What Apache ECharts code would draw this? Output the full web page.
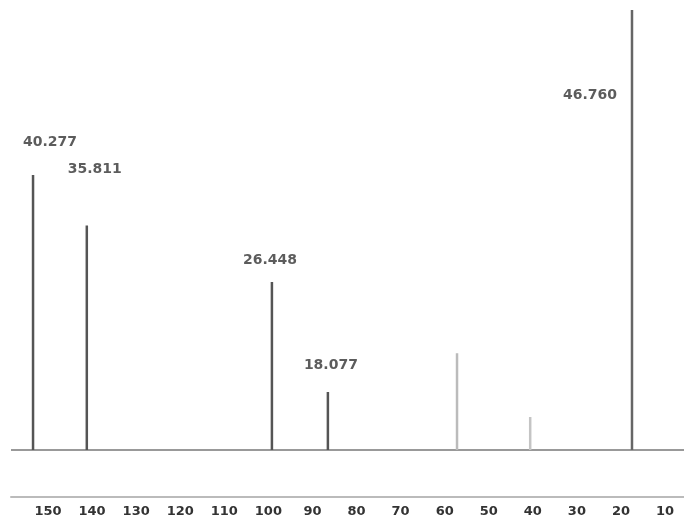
<!DOCTYPE html>
<html>
<head>
<meta charset="utf-8">
<script src="https://cdn.jsdelivr.net/npm/echarts@6/dist/echarts.min.js"></script>
<style>html,body{margin:0;padding:0;background:#fff}#c{width:684px;height:515px}</style>
</head>
<body>
<div id="c"></div>
<script>
// Data
var peakPpm    = [153.4, 141.2, 99.2, 86.5, 57.2, 40.6, 17.5];
var peakHeight = [62.5, 51, 38.2, 13.2, 22, 7.5, 100];
var peakLabels = ["40.277", "35.811", "26.448", "18.077", "", "", "46.760"];
var axisTicks  = [150, 140, 130, 120, 110, 100, 90, 80, 70, 60, 50, 40, 30, 20, 10];
var axisMin = 5.7, axisMax = 158.4;

// styling
var peakColors = ['#555', '#555', '#555', '#555', '#bbb', '#c4c4c4', '#666'];
var labelOffsets = [[17, -33], [8, -56], [-2, -22], [3, -27], [0, 0], [0, 0], [-42, 85]];

var series = [];
// baseline
series.push({
  type: 'line', data: [[axisMax, 0], [axisMin, 0]], symbol: 'none',
  lineStyle: { color: '#999', width: 2 }, z: 1, silent: true
});
peakPpm.forEach(function (p, i) {
  series.push({
    type: 'line', symbol: 'none', silent: true, z: 2,
    data: [[p, 0], [p, peakHeight[i]], [p, 0]],
    lineStyle: { color: peakColors[i], width: 2.5 }
  });
});
series.push({
  type: 'scatter', symbolSize: 1, itemStyle: { color: 'rgba(0,0,0,0)' }, z: 3, silent: true,
  data: peakPpm.map(function (p, i) {
    return {
      value: [p, peakHeight[i]],
      label: {
        show: peakLabels[i] !== '', formatter: peakLabels[i],
        position: 'inside', offset: labelOffsets[i],
        color: '#333', fontSize: 14, fontWeight: 'bold', fontFamily: 'DejaVu Sans'
      }
    };
  })
});

var chart = echarts.init(document.getElementById('c'));
chart.setOption({
  animation: false,
  grid: { left: 11, right: 0, top: 10, bottom: 65, outerBoundsMode: 'none', containLabel: false },
  xAxis: {
    type: 'value', inverse: true, min: axisMin, max: axisMax, offset: 47,
    axisLine: { show: true, onZero: false, lineStyle: { color: '#bbb', width: 2 } },
    axisTick: { show: false },
    splitLine: { show: false },
    axisLabel: { customValues: axisTicks, margin: 8, color: '#333', fontSize: 13, fontWeight: 'bold', fontFamily: 'DejaVu Sans' }
  },
  yAxis: { type: 'value', min: 0, max: 100, show: false },
  series: series
});
</script>
</body>
</html>
